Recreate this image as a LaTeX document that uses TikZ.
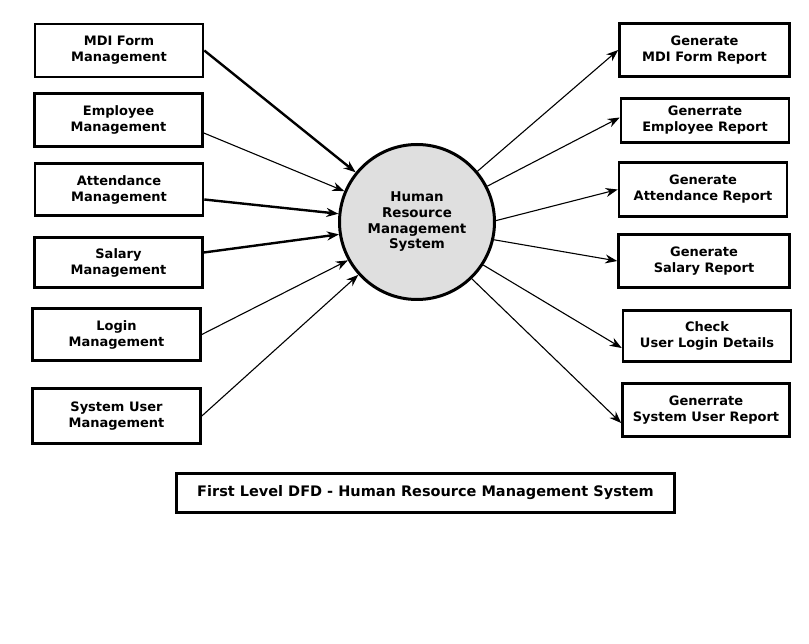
\documentclass[tikz,border=0pt]{standalone}
\usepackage{fontspec}
\setmainfont{DejaVu Sans}
\usepackage{tikz}
\usetikzlibrary{arrows.meta}
\colorlet{procgray}{gray!25}

\begin{document}
\begin{tikzpicture}[x=1pt,y=-1pt,
	>={Stealth[length=12pt,width=9pt]},
	font=\bfseries\fontsize{13}{16}\selectfont,
	box/.style={draw,line width=2.6pt,minimum width=168pt,minimum height=53pt,align=center,inner sep=0pt},
	proc/.style={draw,circle,line width=3pt,fill=procgray,minimum size=155pt,align=center,inner sep=0pt,
		font=\bfseries\fontsize{13.4}{15.7}\selectfont},
	thk/.style={line width=2.4pt},
	thn/.style={line width=1.1pt}]
			\useasboundingbox (0,0) rectangle (809,644);
			% external entities, left side
			\node	(mdi) at (119,50.5) [box] {MDI Form\\Management};
			\node	(emp) at (118.5,120) [box] {Employee\\Management};
			\node	(att) at (119,189.5) [box,minimum height=52pt] {Attendance\\Management};
			\node	(sal) at (118.5,262.5) [box,minimum height=50pt] {Salary\\Management};
			\node	(log) at (116.5,334.5) [box,minimum height=52pt] {Login\\Management};
			\node	(sysu) at (116.5,416) [box,minimum height=55pt] {System User\\Management};
			% process
			\node	(hrms) at (417,222) [proc] {Human\\Resource\\Management\\System};
			% reports, right side
			\node	(rmdi) at (704.5,50) [box,minimum width=170pt] {Generate\\MDI Form Report};
			\node	(remp) at (705,120.5) [box,minimum height=44pt] {Generrate\\Employee Report};
			\node	(ratt) at (703,189.5) [box,minimum height=54pt] {Generate\\Attendance Report};
			\node	(rsal) at (704,261) [box,minimum width=171pt] {Generate\\Salary Report};
			\node	(rchk) at (707,336) [box,minimum height=51pt] {Check\\User Login Details};
			\node	(rsys) at (706,410) [box,minimum width=167pt] {Generrate\\System User Report};
			% caption
			\node	(title) at (425.5,493) [box,minimum width=498pt,minimum height=39pt,
				font=\bfseries\fontsize{14.5}{17}\selectfont] {First Level DFD - Human Resource Management System};
			\draw 
			(mdi.east) edge[->,thk] (hrms.141)
			([yshift=-13pt]emp.east) edge[->,thn] (hrms.157)
			([yshift=-10pt]att.east) edge[->,thk] (hrms.174)
			([yshift=10pt]sal.east) edge[->,thk] (hrms.189)
			(log.east) edge[->,thn] (hrms.209)
			(sysu.east) edge[->,thn] (hrms.222)
			(hrms.40) edge[->,thn] (rmdi.west)
			(hrms.27) edge[->,thn] ([yshift=3pt]remp.west)
			(hrms.1) edge[->,thn] (ratt.west)
			(hrms.-13) edge[->,thn] (rsal.west)
			(hrms.-33) edge[->,thn] ([yshift=-12pt]rchk.west)
			(hrms.-46) edge[->,thn] ([yshift=-13pt]rsys.west)
			;
\end{tikzpicture}
\end{document}
